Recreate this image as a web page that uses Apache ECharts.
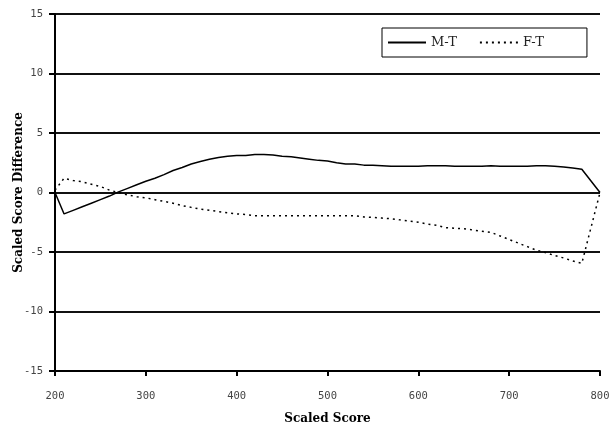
<!DOCTYPE html>
<html>
<head>
<meta charset="utf-8">
<script src="https://cdn.jsdelivr.net/npm/echarts@6/dist/echarts.min.js"></script>
<style>html,body{margin:0;padding:0;background:#fff}#c{width:611px;height:425px}</style>
</head>
<body>
<div id="c"></div>
<script>
const scores = [200,210,220,230,240,250,260,270,280,290,300,310,320,330,340,350,360,370,380,390,400,410,420,430,440,450,460,470,480,490,500,510,520,530,540,550,560,570,580,590,600,610,620,630,640,650,660,670,680,690,700,710,720,730,740,750,760,770,780,800];
const mt = [0,-1.8,-1.5,-1.2,-0.9,-0.6,-0.3,0.05,0.35,0.65,0.95,1.2,1.5,1.85,2.1,2.4,2.6,2.8,2.95,3.05,3.1,3.1,3.2,3.2,3.15,3.05,3.0,2.9,2.8,2.7,2.65,2.5,2.4,2.4,2.3,2.3,2.25,2.2,2.2,2.2,2.2,2.25,2.25,2.25,2.2,2.2,2.2,2.2,2.25,2.2,2.2,2.2,2.2,2.25,2.25,2.2,2.15,2.05,1.95,0];
const ft = [0.2,1.2,1.0,0.9,0.7,0.5,0.2,0.0,-0.2,-0.35,-0.45,-0.6,-0.75,-0.9,-1.1,-1.25,-1.4,-1.5,-1.6,-1.7,-1.8,-1.85,-1.95,-1.95,-1.95,-1.95,-1.95,-1.95,-1.95,-1.95,-1.95,-1.95,-1.95,-1.95,-2.05,-2.1,-2.15,-2.2,-2.3,-2.4,-2.5,-2.65,-2.75,-2.95,-3.0,-3.05,-3.15,-3.25,-3.35,-3.65,-3.95,-4.25,-4.55,-4.85,-5.05,-5.3,-5.5,-5.75,-5.95,0];
const seriesNames = ['M-T','F-T'];
const xTitle = 'Scaled Score';
const yTitle = 'Scaled Score Difference';

const chart = echarts.init(document.getElementById('c'), null, {renderer:'canvas'});
const tickFont = {fontFamily:'DejaVu Sans Mono', fontSize:10.5, color:'#444'};
chart.setOption({
  animation:false,
  backgroundColor:'#fff',
  grid:{left:55,right:11,top:14,bottom:54,containLabel:false,outerBoundsMode:'none'},
  legend:{
    left:382, top:28,
    padding:[8,43,8,5],
    borderColor:'#000', borderWidth:1,
    itemWidth:38, itemHeight:10, itemGap:22,
    itemStyle:{opacity:0},
    textStyle:{fontFamily:'DejaVu Serif', fontSize:13, color:'#222'},
    data:seriesNames
  },
  xAxis:{
    type:'value', min:200, max:800, interval:100,
    name:xTitle, nameLocation:'middle', nameGap:42, nameMoveOverlap:false,
    nameTextStyle:{fontFamily:'DejaVu Serif', fontWeight:'bold', fontSize:12, color:'#000'},
    axisLine:{show:true, onZero:false, lineStyle:{color:'#000', width:2}},
    axisTick:{show:true, length:5, lineStyle:{color:'#000', width:2}},
    axisLabel:Object.assign({margin:20}, tickFont),
    splitLine:{show:false}
  },
  yAxis:{
    type:'value', min:-15, max:15, interval:5,
    name:yTitle, nameLocation:'middle', nameGap:30, nameMoveOverlap:false,
    nameTextStyle:{fontFamily:'DejaVu Serif', fontWeight:'bold', fontSize:12, color:'#000'},
    axisLine:{show:true, onZero:false, lineStyle:{color:'#000', width:2}},
    axisTick:{show:true, length:6, lineStyle:{color:'#000', width:2}},
    axisLabel:Object.assign({margin:12}, tickFont),
    splitLine:{show:true, lineStyle:{color:'#111', width:2}}
  },
  series:[
    {name:seriesNames[0], type:'line', symbol:'none', data:scores.map((s,i)=>[s,mt[i]]),
     lineStyle:{color:'#000', width:1.5, type:'solid'}, itemStyle:{color:'#000'}},
    {name:seriesNames[1], type:'line', symbol:'none', data:scores.map((s,i)=>[s,ft[i]]),
     lineStyle:{color:'#000', width:1.5, type:[2,4]}, itemStyle:{color:'#000'}}
  ]
});
</script>
</body>
</html>
